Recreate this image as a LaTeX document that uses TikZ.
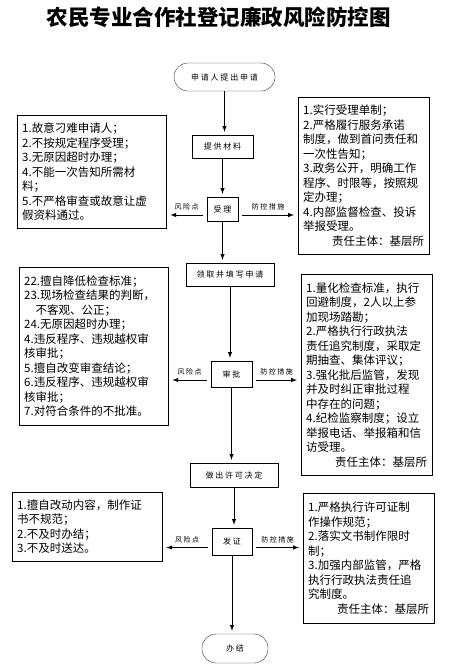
\documentclass[tikz,border=0pt]{standalone}
\usepackage{fontspec}
\usepackage{tikz}
\usetikzlibrary{shapes.geometric, arrows, positioning}
\newfontfamily\cjk{Noto Sans CJK SC}
\newfontfamily\cjkspaced[LetterSpace=22]{Noto Sans CJK SC}

\begin{document}
\begin{tikzpicture}[x=1pt, y=-1pt]
% Define styles
\tikzstyle{startstop} = [rectangle, rounded corners=14pt, draw=black!80, minimum height=28pt, inner sep=0pt, text centered, font=\cjkspaced\fontsize{8}{9}\selectfont]
\tikzstyle{process} = [rectangle, draw, inner sep=0pt, text centered, font=\cjkspaced\fontsize{8}{9}\selectfont]
\tikzstyle{riskbox} = [rectangle, draw, anchor=north west, inner xsep=5pt, inner ysep=0pt, align=left, font=\cjk\fontsize{11.5}{14.5}\selectfont]
\tikzstyle{flowarrow} = [line width=1pt, ->, >=latex, shorten >=3pt]
\tikzstyle{sidearrow} = [line width=1pt, ->, >=latex, shorten <=4pt, shorten >=4pt]
\tikzstyle{tag} = [midway, above=3pt, inner sep=1pt, font=\cjkspaced\fontsize{7}{8}\selectfont]

\useasboundingbox (0,0) rectangle (455,667);

% Title
\node (title) at (218.5,17) {\cjk\bfseries\fontsize{21.5}{24}\selectfont 农民专业合作社登记廉政风险防控图};

% Nodes
\node (apply) [startstop, minimum width=101pt] at (224.5,77) {申请人提出申请};
\node (material) [process, minimum width=61pt, minimum height=23pt] at (222.5,146.5) {提供材料};
\node (accept) [process, minimum width=31pt, minimum height=24pt] at (222.5,209) {受理};
\node (fillin) [process, minimum width=88pt, minimum height=23pt] at (230,274.5) {领取并填写申请};
\node (approve) [process, minimum width=41pt, minimum height=26pt] at (231.5,374) {审批};
\node (decide) [process, minimum width=88pt, minimum height=24pt] at (234,475) {做出许可决定};
\node (issue) [process, minimum width=40pt, minimum height=27pt] at (232,541.5) {发证};
\node (finish) [startstop, minimum width=66pt, minimum height=29pt] at (235,648.5) {办结};

% Risk points and measures
\node (risk1) [riskbox, text width=139pt, minimum height=113pt] at (17,115) {1.故意刁难申请人；\\2.不按规定程序受理；\\3.无原因超时办理；\\4.不能一次告知所需材\\料；\\5.不严格审查或故意让虚\\假资料通过。};
\node (measure1) [riskbox, text width=121pt, minimum height=157pt] at (298,97) {1.实行受理单制；\\2.严格履行服务承诺\\制度，做到首问责任和\\一次性告知；\\3.政务公开，明确工作\\程序、时限等，按照规\\定办理；\\4.内部监督检查、投诉\\举报受理。\\\hspace*{\fill}责任主体：基层所};
\node (risk2) [riskbox, text width=139pt, minimum height=158pt] at (19,267) {22.擅自降低检查标准；\\23.现场检查结果的判断，\\\hspace*{1em}不客观、公正；\\24.无原因超时办理；\\4.违反程序、违规越权审\\核审批；\\5.擅自改变审查结论；\\6.违反程序、违规越权审\\核审批；\\7.对符合条件的不批准。};
\node (measure2) [riskbox, text width=121pt, minimum height=201pt] at (301,274) {1.量化检查标准，执行\\回避制度，2人以上参\\加现场踏勘；\\2.严格执行行政执法\\责任追究制度，采取定\\期抽查、集体评议；\\3.强化批后监管，发现\\并及时纠正审批过程\\中存在的问题；\\4.纪检监察制度；设立\\举报电话、举报箱和信\\访受理。\\\hspace*{\fill}责任主体：基层所};
\node (risk3) [riskbox, text width=140pt, minimum height=69pt] at (12,492) {1.擅自改动内容，制作证\\书不规范；\\2.不及时办结；\\3.不及时送达。};
\node (measure3) [riskbox, text width=121pt, minimum height=130pt] at (303,493) {1.严格执行许可证制\\作操作规范；\\2.落实文书制作限时\\制；\\3.加强内部监管，严格\\执行行政执法责任追\\究制度。\\\hspace*{\fill}责任主体：基层所};

% Arrows
\draw[flowarrow] (apply) -- (apply |- material.north);
\draw[flowarrow] (material) -- (material |- accept.north);
\draw[flowarrow] (accept) -- (accept |- fillin.north);
\draw[flowarrow] (fillin) -- (fillin |- approve.north);
\draw[flowarrow] (approve) -- (approve |- decide.north);
\draw[flowarrow] (decide) -- (decide |- issue.north);
\draw[flowarrow] (issue) -- (issue |- finish.north);

\draw[sidearrow] ([yshift=-6pt]accept.west) -- ([yshift=-6pt]accept.west -| risk1.east) node[tag] {风险点};
\draw[sidearrow] ([yshift=-6pt]accept.east) -- ([yshift=-6pt]accept.east -| measure1.west) node[tag] {防控措施};
\draw[sidearrow] ([yshift=-6pt]approve.west) -- ([yshift=-6pt]approve.west -| risk2.east) node[tag] {风险点};
\draw[sidearrow] ([yshift=-6pt]approve.east) -- ([yshift=-6pt]approve.east -| measure2.west) node[tag] {防控措施};
\draw[sidearrow] ([yshift=-6pt]issue.west) -- ([yshift=-6pt]issue.west -| risk3.east) node[tag] {风险点};
\draw[sidearrow] ([yshift=-6pt]issue.east) -- ([yshift=-6pt]issue.east -| measure3.west) node[tag] {防控措施};
\end{tikzpicture}
\end{document}
